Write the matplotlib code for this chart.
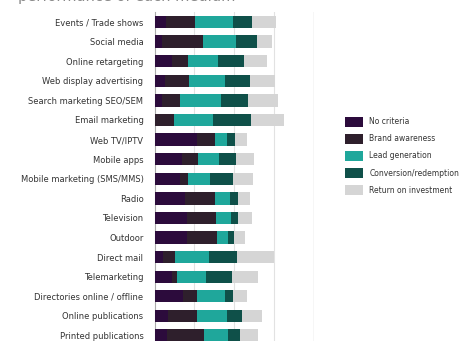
import matplotlib
matplotlib.use("Agg")
import matplotlib.pyplot as plt
from matplotlib.patches import Patch
import numpy as np

categories = ["Events / Trade shows", "Social media", "Online retargeting",
              "Web display advertising", "Search marketing SEO/SEM", "Email marketing",
              "Web TV/IPTV", "Mobile apps", "Mobile marketing (SMS/MMS)", "Radio",
              "Television", "Outdoor", "Direct mail", "Telemarketing",
              "Directories online / offline", "Online publications", "Printed publications"]

series_names = ["No criteria", "Brand awareness", "Lead generation",
                "Conversion/redemption", "Return on investment"]

no_criteria = [7.5, 4.9, 11.1, 6.6, 4.5, 0.0, 26.4, 17.4, 15.9, 18.9, 20.5, 20.5, 5.3, 10.8, 18.0, 8.6, 7.6]
brand_awareness = [17.7, 25.6, 10.0, 15.0, 11.6, 12.4, 11.6, 10.0, 5.2, 18.8, 18.1, 18.6, 7.5, 3.1, 8.4, 17.8, 23.5]
lead_generation = [23.9, 20.6, 18.8, 22.3, 25.3, 24.2, 7.3, 13.1, 14.0, 9.8, 9.4, 7.1, 21.3, 18.1, 17.7, 18.8, 14.8]
conversion = [11.9, 13.1, 16.3, 16.0, 17.1, 24.2, 5.4, 10.6, 14.1, 4.6, 4.2, 3.8, 17.9, 16.3, 5.2, 9.8, 7.9]
roi = [15.4, 9.4, 14.6, 15.9, 18.8, 20.6, 7.1, 11.1, 12.3, 7.7, 8.9, 6.7, 22.7, 16.6, 8.4, 12.1, 11.4]

colors = ["#2c0b3c", "#2e1f2c", "#1fa79b", "#0f5049", "#d5d5d5"]

fig = plt.figure(figsize=(4.62, 3.41), dpi=100)
ax = fig.add_axes([154.5 / 462, 0.0, (314 - 154.5) / 462, 1 - 12 / 341])

y = np.arange(len(categories))
left = np.zeros(len(categories))
for vals, c in zip([no_criteria, brand_awareness, lead_generation, conversion, roi], colors):
    ax.barh(y, vals, left=left, height=0.63, color=c, zorder=3, linewidth=0)
    left += np.array(vals)

ax.set_xlim(0, 100)
ax.set_ylim(16.28, -0.51)
ax.set_yticks(y)
ax.set_yticklabels(categories, fontsize=6, color="#333333")
ax.tick_params(axis="y", length=0, pad=8)
ax.set_xticks([])
for xv in [25, 50, 75]:
    ax.axvline(xv, color="#e2e2e2", lw=0.8, zorder=1)
ax.axvline(100, color="#bdbdbd", lw=0.9, zorder=1)
for s in ["top", "right", "bottom"]:
    ax.spines[s].set_visible(False)
ax.spines["left"].set_color("#aaaaaa")
ax.spines["left"].set_linewidth(0.8)

handles = [Patch(facecolor=c, edgecolor="none") for c in colors]
fig.legend(handles, series_names, loc="upper left", bbox_to_anchor=(338 / 462, 1 - 110 / 341),
           frameon=False, fontsize=5.5, handlelength=2.4, handleheight=1.6,
           labelspacing=0.95, handletextpad=0.8, labelcolor="#333333")

fig.text(18 / 462, 1 - 0.8 / 341, "performance of each medium", fontsize=10.5,
         color="#8a8a8a", va="baseline", ha="left")

fig.savefig("out.png", dpi=100)
